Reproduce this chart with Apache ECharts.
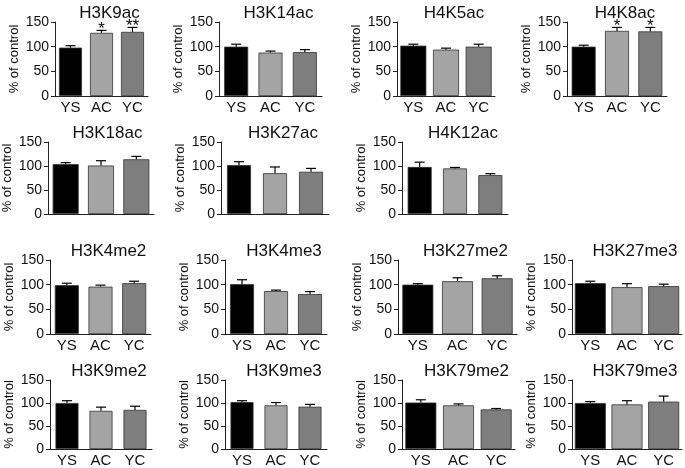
<!DOCTYPE html>
<html>
<head>
<meta charset="utf-8">
<script src="https://cdn.jsdelivr.net/npm/echarts@6/dist/echarts.min.js"></script>
<style>html,body{margin:0;padding:0;background:#fff}#c{width:685px;height:468px}</style>
</head>
<body>
<div id="c"></div>
<script>
// ---- data ----
const categories = ['YS', 'AC', 'YC'];
const markers = ['H3K9ac','H3K14ac','H4K5ac','H4K8ac','H3K18ac','H3K27ac','H4K12ac',
  'H3K4me2','H3K4me3','H3K27me2','H3K27me3','H3K9me2','H3K9me3','H3K79me2','H3K79me3'];
const ysMean = [98, 100, 102, 100, 104, 102, 98, 99, 101, 100, 103, 100, 102, 101, 100];
const acMean = [128, 88, 94, 132, 101, 85, 95, 96, 87, 107, 95, 83, 95, 95, 97];
const ycMean = [130, 89, 100, 131, 114, 88, 81, 103, 81, 113, 97, 85, 92, 86, 103];
const ysErr = [4, 5, 3, 3, 3, 7, 10, 4, 9, 2, 4, 5, 3, 6, 3];
const acErr = [5, 3, 3, 7, 10, 13, 2, 3, 2, 7, 7, 8, 6, 3, 8];
const ycErr = [9, 5, 5, 8, 6, 7, 3, 4, 5, 5, 4, 8, 5, 2, 12];
const ysSig = ['', '', '', '', '', '', '', '', '', '', '', '', '', '', ''];
const acSig = ['*', '', '', '*', '', '', '', '', '', '', '', '', '', '', ''];
const ycSig = ['**', '', '', '*', '', '', '', '', '', '', '', '', '', '', ''];
const yMin = 0, yMax = 150, yStep = 50;
const yAxisName = '% of control';

// ---- layout (positions/styles only) ----
const barColors = ['#000000', '#a4a4a4', '#7e7e7e'];
// [left, top, width, height, barWidth, showXLabels]
const layout = [
  [55, 22, 93, 74, 23, true], [219, 22, 103, 74, 24, true], [397, 22, 98, 74, 26, true], [567, 22, 100, 74, 24, true],
  [45, 142, 109, 72, 26, false], [221, 142, 108, 72, 24, false], [402, 142, 106, 72, 24, false],
  [50, 260, 101, 74, 24, true], [225, 260, 102, 74, 24, true], [398, 260, 119, 74, 31, true], [572, 260, 110, 74, 31, true],
  [50, 380, 102, 72, 23, true], [225, 380, 102, 72, 23, true], [402, 380, 113, 72, 31, true], [572, 380, 110, 72, 31, true]
];
const FONT = 'Liberation Sans, Arial, sans-serif';

const grids = [], xAxes = [], yAxes = [], series = [], titles = [];
markers.forEach((name, i) => {
  const [l, t, w, h, bw, showX] = layout[i];
  grids.push({ left: l, top: t, width: w, height: h, containLabel: false });
  titles.push({
    text: name, left: l + w / 2 + 3, top: t - 22, textAlign: 'center',
    textStyle: { fontFamily: FONT, fontSize: 17, fontWeight: 'normal', color: '#111' }
  });
  xAxes.push({
    type: 'category', gridIndex: i, data: categories,
    axisLine: { lineStyle: { color: '#222', width: 1 } },
    axisTick: { show: false },
    axisLabel: { show: showX, fontFamily: FONT, fontSize: 15, color: '#111', margin: 4 }
  });
  yAxes.push({
    type: 'value', gridIndex: i, min: yMin, max: yMax, interval: yStep,
    name: yAxisName, nameLocation: 'middle', nameGap: 34, nameRotate: 90,
    nameTextStyle: { fontFamily: FONT, fontSize: 13, color: '#111' },
    axisLine: { show: true, lineStyle: { color: '#222', width: 1 } },
    axisTick: { show: true, length: 4, lineStyle: { color: '#222' } },
    axisLabel: { fontFamily: FONT, fontSize: 14, color: '#111', margin: 6 },
    splitLine: { show: false }
  });
  const means = [ysMean[i], acMean[i], ycMean[i]];
  const errs = [ysErr[i], acErr[i], ycErr[i]];
  const sigs = [ysSig[i], acSig[i], ycSig[i]];
  series.push({
    type: 'bar', xAxisIndex: i, yAxisIndex: i, barWidth: bw, silent: true,
    data: means.map((v, k) => ({ value: v, itemStyle: { color: barColors[k], borderColor: '#333', borderWidth: 0.8 } })),
    z: 2
  });
  series.push({
    type: 'custom', xAxisIndex: i, yAxisIndex: i, silent: true, z: 3,
    data: means.map((v, k) => [k, v, errs[k], sigs[k]]),
    encode: { x: 0, y: 1 },
    renderItem: (params, api) => {
      const base = api.coord([api.value(0), api.value(1)]);
      const top = api.coord([api.value(0), api.value(1) + api.value(2)]);
      const cw = 5;
      const children = [
        { type: 'line', shape: { x1: base[0], y1: base[1], x2: top[0], y2: top[1] }, style: { stroke: '#000', lineWidth: 1.2 } },
        { type: 'line', shape: { x1: top[0] - cw, y1: top[1], x2: top[0] + cw, y2: top[1] }, style: { stroke: '#000', lineWidth: 1.2 } }
      ];
      const s = sigs[params.dataIndex];
      if (s) {
        children.push({ type: 'text', z2: 10, style: { text: s, x: top[0], y: top[1] - 10, align: 'center', verticalAlign: 'top', font: '17px ' + FONT, fill: '#000' } });
      }
      return { type: 'group', children };
    }
  });
});

const chart = echarts.init(document.getElementById('c'), null, { renderer: 'canvas' });
chart.setOption({ animation: false, backgroundColor: '#fff', title: titles, grid: grids, xAxis: xAxes, yAxis: yAxes, series });
</script>
</body>
</html>
